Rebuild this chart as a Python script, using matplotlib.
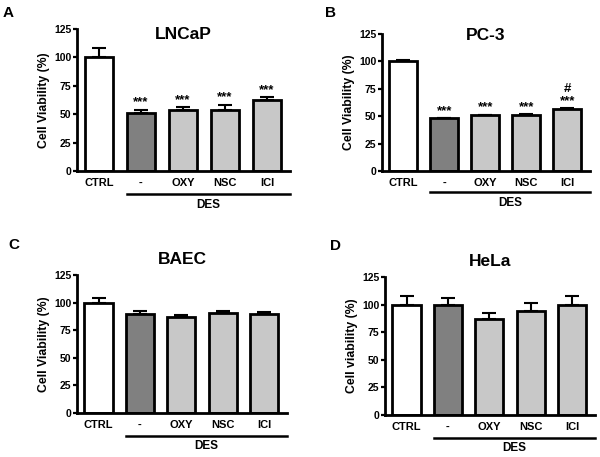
import matplotlib.pyplot as plt
import numpy as np

plt.rcParams['font.family'] = ['Liberation Sans', 'DejaVu Sans']
plt.rcParams['font.weight'] = 'bold'

groups = ["CTRL", "-", "OXY", "NSC", "ICI"]
colors = ["white", "#808080", "#c8c8c8", "#c8c8c8", "#c8c8c8"]

lncap = [100, 51, 54, 54, 62.5]
lncap_err = [8, 3, 2, 4.5, 2.5]
lncap_marks = ["", "***", "***", "***", "***"]

pc3 = [100, 48, 51, 51, 57]
pc3_err = [1.5, 0.5, 0.5, 1, 0.5]
pc3_marks = ["", "***", "***", "***", "#\n***"]

baec = [100, 90, 87, 91, 90]
baec_err = [4, 2.5, 1.5, 1, 1.5]
baec_marks = ["", "", "", "", ""]

hela = [100, 100, 87, 94, 100]
hela_err = [8, 6, 5, 7, 8]
hela_marks = ["", "", "", "", ""]

W, H = 600, 457
fig = plt.figure(figsize=(6, 4.57), dpi=100)

def panel(box, letter, letter_xy, title, vals, errs, marks, ylabel, title_y, des_y, des_text_y):
    # box in pixels: left, right, top, bottom
    l, r, t, b = box
    ax = fig.add_axes([l / W, 1 - b / H, (r - l) / W, (b - t) / H])
    x = np.arange(len(groups))
    ax.bar(x, vals, width=0.68, color=colors, edgecolor="black", linewidth=2, zorder=2)
    ax.errorbar(x, vals, yerr=[np.zeros(len(vals)), errs], fmt="none", ecolor="black",
                elinewidth=1.5, capsize=5, capthick=1.5, zorder=1)
    for xi, v, e, m in zip(x, vals, errs, marks):
        if m:
            ax.text(xi, v + e + 1, m, ha="center", va="bottom", fontsize=9.5, linespacing=1.0)
    ax.set_xlim(-0.52, 4.55)
    ax.set_ylim(0, 125)
    ax.set_yticks([0, 25, 50, 75, 100, 125])
    ax.set_xticks(x)
    ax.set_xticklabels(groups)
    ax.tick_params(axis="x", length=0, labelsize=8, pad=5)
    ax.tick_params(axis="y", length=3, width=1.6, labelsize=7.5, pad=1)
    for s in ["top", "right"]:
        ax.spines[s].set_visible(False)
    for s in ["left", "bottom"]:
        ax.spines[s].set_linewidth(2)
    ax.set_ylabel(ylabel, fontsize=8.8, fontweight="bold", labelpad=3)
    ax.text(0.5, title_y, title, transform=ax.transAxes, ha="center", va="center",
            fontsize=12.5, fontweight="bold")
    # DES bracket line under the treatment groups
    x0 = ax.transData.transform((0.66, 0))[0] / fig.dpi / 6
    fig.add_artist(plt.Line2D([x0, r / W], [1 - des_y / H, 1 - des_y / H],
                              color="black", linewidth=1.8))
    fig.text((x0 + r / W) / 2, 1 - des_text_y / H, "DES", ha="center", va="center",
             fontsize=8.5, fontweight="bold")
    fig.text(letter_xy[0] / W, 1 - letter_xy[1] / H, letter,
             ha="left", va="center", fontsize=11, fontweight="bold")
    return ax

panel((77, 290, 29, 171), "A", (3, 13), "LNCaP", lncap, lncap_err, lncap_marks,
      "Cell Viability (%)", 0.96, 194, 205)
panel((382, 590, 34, 171), "B", (325, 13), "PC-3", pc3, pc3_err, pc3_marks,
      "Cell Viability (%)", 0.99, 192, 203)
panel((77, 287, 275, 413), "C", (8, 245), "BAEC", baec, baec_err, baec_marks,
      "Cell Viability (%)", 1.11, 436, 446)
panel((385, 595, 277, 415), "D", (330, 246), "HeLa", hela, hela_err, hela_marks,
      "Cell viability (%)", 1.11, 438, 448)

plt.savefig("out.png", dpi=100)
